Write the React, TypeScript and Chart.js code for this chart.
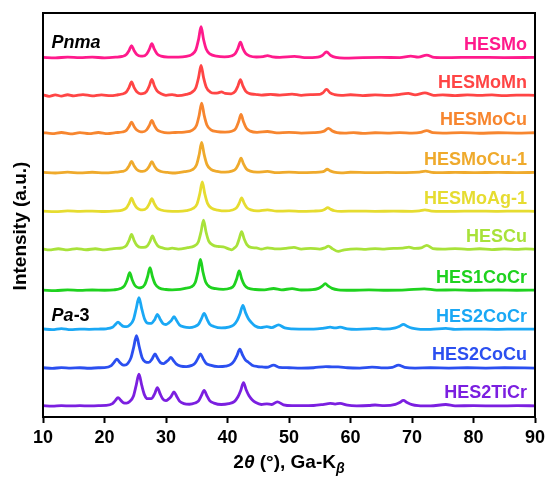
import React, { useEffect, useRef } from 'react';
import { Chart, registerables } from 'chart.js';

Chart.register(...registerables);

// Series (top to bottom)
const seriesNames = ['HESMo', 'HESMoMn', 'HESMoCu', 'HESMoCu-1', 'HESMoAg-1', 'HESCu', 'HES1CoCr', 'HES2CoCr', 'HES2CoCu', 'HES2TiCr'];
const seriesColors = ['#FF1A8C', '#FF4545', '#F7862F', '#EFAA2C', '#E6DC30', '#A8E23A', '#1FD21F', '#1AA8F5', '#2B4FF0', '#7B1FE0'];
// vertical stacking offsets (a.u.)
const offsets = [371.5, 332.5, 293.5, 252.6, 212.6, 173.3, 131, 90.6, 50.6, 11.4];
const xTicks = [10, 20, 30, 40, 50, 60, 70, 80, 90];

type P = [number, number];

const HESMo: P[] = [[10,0.3],[12,-0.3],[14,0.5],[16,0],[18,0.4],[20,-0.2],[21.8,0.4],[22.9,1.2],[23.55,3.1],[24.0,7.4],[24.4,12.4],[24.8,7.4],[25.25,3.3],[25.9,1.5],[26.2,1.5],[26.85,3.6],[27.3,8.7],[27.7,14.5],[28.1,8.7],[28.55,3.9],[29.2,1.5],[30.5,0.5],[32,0.4],[33.3,1.2],[34.2,3.2],[34.85,8],[35.3,19],[35.7,32],[36.1,19],[36.55,8.6],[37.2,3.5],[38.2,1.5],[39.5,0.8],[40.6,1.6],[41.25,4],[41.7,9.6],[42.1,16],[42.5,9.6],[42.95,4.3],[43.6,1.7],[44.7,0.6],[45.8,1],[46.5,2],[47.3,0.8],[48.5,0.3],[50.9,1.3],[52.5,0],[54.7,0.6],[55.4,2.2],[56.1,5.8],[56.8,2.2],[57.6,0.3],[59,-0.5],[62,0],[65,0.2],[68,0],[69.8,1.5],[71,0.5],[72.4,2.6],[73.6,0.3],[76,0],[80,0.3],[85,0],[90,0.2]];

const HESMoMn: P[] = [[10,0.5],[11,-1],[12,0.5],[13,-0.8],[14,0.6],[15,-0.5],[16.5,0.8],[18,-0.6],[19.5,0.5],[21,-0.4],[22.2,0.6],[22.9,1.4],[23.55,3.5],[24.0,8.3],[24.4,13.8],[24.8,8.3],[25.25,3.7],[25.9,1.6],[26.2,1.7],[26.85,4.1],[27.3,9.9],[27.7,16.5],[28.1,9.9],[28.55,4.5],[29.2,1.7],[30,0],[31,0.8],[32,-0.4],[33.3,1],[34.2,3.1],[34.85,7.8],[35.3,18.6],[35.7,31],[36.1,18.6],[36.55,8.4],[37.2,3.4],[37.9,2.2],[38.5,2.6],[39,3.6],[39.6,2],[40.6,1.6],[41.25,4],[41.7,9.7],[42.1,16.2],[42.5,9.7],[42.95,4.4],[43.6,1.7],[44.5,1],[45.5,0.2],[47,1],[48.5,0.2],[50.5,1.2],[52,0],[53.5,0.8],[55,1],[55.5,2.5],[56.1,6.2],[56.7,2.5],[57.4,0.8],[58.5,0],[60,0.6],[62,-0.3],[64,0.5],[66,0],[67.5,0.6],[69.4,2],[70.5,0.5],[72.1,2.6],[73.5,0],[75,0.5],[77,-0.3],[79,0.5],[81,0],[83,0.4],[85,-0.3],[87,0.3],[90,0]];

const HESMoCu: P[] = [[10,0.5],[11.5,-0.5],[13,0.6],[14.5,-0.8],[16,0.4],[17.5,-0.6],[19,0.6],[20.5,-0.5],[21.8,0.4],[22.9,1.1],[23.55,2.8],[24.0,6.8],[24.4,11.3],[24.8,6.8],[25.25,3.1],[25.9,1.3],[26.2,1.3],[26.85,3.3],[27.3,7.9],[27.7,13.1],[28.1,7.9],[28.55,3.5],[29.2,1.4],[30.3,0.2],[31.5,0.6],[33,1],[34.3,3.1],[34.95,7.8],[35.4,18.6],[35.8,31],[36.2,18.6],[36.65,8.4],[37.3,3.4],[38.3,1.5],[39.6,1],[40.7,1.9],[41.35,4.8],[41.8,11.6],[42.2,19.3],[42.6,11.6],[43.05,5.2],[43.7,2],[44.8,0.8],[46.5,1.6],[48,0.2],[50,0.8],[52,0],[54,0.4],[55.1,1],[55.7,2],[56.4,4.8],[57.1,2],[57.8,0.5],[59,0],[60.5,0.5],[62,-0.4],[64,0.3],[66,0],[68,0.4],[70,0],[71.4,0.6],[72.4,2.6],[73.4,0.4],[75,0],[78,0.4],[81,-0.2],[84,0.3],[87,0],[90,0.3]];

const HESMoCu1: P[] = [[10,0.3],[12,-0.4],[14,0.5],[16,-0.3],[18,0.4],[20,-0.2],[21.8,0.5],[22.9,1.2],[23.55,2.9],[24.0,7],[24.4,11.7],[24.8,7],[25.25,3.2],[25.9,1.3],[26.2,1.2],[26.85,2.9],[27.3,6.8],[27.7,11.4],[28.1,6.8],[28.55,3.1],[29.2,1.2],[30.3,0.2],[31.5,-0.4],[33,1],[34.3,3.1],[34.95,7.8],[35.4,18.8],[35.8,31.3],[36.2,18.8],[36.65,8.5],[37.3,3.4],[38.3,1.4],[39.6,0.5],[40.7,1.5],[41.35,3.8],[41.8,9],[42.2,15],[42.6,9],[43.05,4],[43.7,1.6],[44.8,0.5],[46.5,1.2],[48,0],[50,0.6],[52,0],[54,0.3],[55.3,0.8],[55.8,1.8],[56.2,3.5],[56.7,1.8],[57.3,0.5],[58.5,-0.2],[60,0.4],[63,0],[66,0.2],[69,0],[71.2,0.5],[72.2,1.5],[73.2,0.3],[75,0],[77,0.3],[80,0],[84,0.3],[87,0],[90,0.2]];

const HESMoAg1: P[] = [[10,0.2],[12,-0.3],[14,0.4],[16,0],[18,0.3],[20,-0.2],[21.8,0.4],[22.9,1.3],[23.55,3.4],[24.0,8.1],[24.4,13.5],[24.8,8.1],[25.25,3.6],[25.9,1.5],[26.2,1.4],[26.85,3.3],[27.3,7.9],[27.7,13.1],[28.1,7.9],[28.55,3.5],[29.2,1.4],[30.3,0.2],[32,0],[33.3,0.8],[34.4,3],[35.05,7.6],[35.5,18.3],[35.9,30.5],[36.3,18.3],[36.75,8.2],[37.4,3.3],[38.4,1.3],[39.7,0.4],[40.8,1.4],[41.45,3.5],[41.9,8.4],[42.3,14],[42.7,8.4],[43.15,3.8],[43.8,1.5],[44.8,0.4],[46.5,1.5],[48,0.2],[50,0.4],[52,0],[54,0.3],[55.3,0.8],[55.8,2],[56.3,3.8],[56.8,2],[57.4,0.6],[58.5,0],[61,0.3],[64,0],[67,0.2],[70,0],[71.2,0.4],[72.1,1.5],[73.2,0.3],[77,0],[80,0.3],[84,0],[87,0.3],[90,0]];

const HESCu: P[] = [[10,0.5],[11,-0.6],[12.5,0.6],[14,-0.5],[15.5,0.7],[17,-0.4],[18.5,0.6],[20,-0.5],[21.5,0.8],[22.9,1.6],[23.55,3.9],[24.0,9.3],[24.4,15.5],[24.8,9.3],[25.25,4.2],[25.9,2],[26.3,2],[26.95,3.5],[27.4,8.3],[27.8,13.8],[28.2,8.3],[28.65,3.7],[29.3,1.8],[30.2,0.5],[31,1.2],[32,0.3],[33.5,1.8],[34.6,3.5],[35.25,7.6],[35.7,18.2],[36.1,30.3],[36.5,18.2],[36.95,8.5],[37.6,4.5],[38.4,3],[39.3,2.5],[40.2,0.5],[40.7,-0.5],[41.2,1.8],[41.55,4.5],[41.9,10.9],[42.3,18.2],[42.7,10.9],[43.15,4.9],[43.8,2],[44.7,1.5],[45.5,0.3],[46.5,1.5],[48,0.4],[49.5,1],[50.8,2],[52,0.3],[53.5,1],[55,0.3],[55.8,1.5],[56.4,3.4],[57.1,0.5],[58,-2],[59,-0.5],[61,0.5],[62.5,0],[64,0.8],[65.5,0.3],[67,1],[68.5,1.2],[69.5,2.2],[70.5,1],[71.5,1.5],[72.4,4.1],[73.4,0.8],[75,0.3],[77,0.8],[79,0],[81,0.6],[83,-0.3],[85,0.5],[87,0],[88.5,0.5],[90,0]];

const HES1CoCr: P[] = [[10,0.2],[12,-0.4],[14,0.4],[16,-0.2],[18,0.3],[20,0],[21.5,0.4],[22.6,1.8],[23.25,4.6],[23.7,10.9],[24.1,18.2],[24.5,10.9],[24.95,4.9],[25.6,2.5],[25.9,2.6],[26.55,5.9],[27.0,14],[27.4,23.4],[27.8,14],[28.25,6.3],[28.9,2.4],[30,0.8],[31,0.5],[32.3,1],[33.3,2.2],[34.1,3.5],[34.75,8],[35.2,19.2],[35.6,32],[36.0,19.2],[36.45,8.6],[37.1,3.5],[38.1,1.6],[39.3,1],[40.4,2],[41.05,5],[41.5,12],[41.9,20],[42.3,12],[42.75,5.4],[43.4,2],[44.5,0.8],[46,0.5],[47.5,1.8],[48.8,0.5],[50.5,1.6],[52,0.3],[53.8,0.6],[54.8,2],[55.4,4.2],[55.9,6.8],[56.4,4.2],[57,2],[58,0.5],[60,0],[63,0.4],[66,0],[69,0.3],[72,1.5],[74,0.2],[77,0.4],[80,0],[84,0.3],[87,0],[90,0.2]];

const HES2CoCr: P[] = [[10,0.4],[11.5,-0.3],[13,0.8],[14.5,-0.3],[16,0.3],[17.5,0],[19,0.3],[20.3,0.6],[21.3,2.2],[21.75,4.9],[22.2,7.5],[22.65,5],[23.1,3],[23.6,2.8],[24.1,4.5],[24.7,10],[25.15,21.3],[25.6,32.7],[26.05,21.5],[26.5,11],[27,6.5],[27.6,6.2],[28.15,10],[28.6,15.5],[29.05,10.5],[29.5,6],[30,5],[30.4,6.5],[30.85,9],[31.3,13],[31.75,8.8],[32.2,4.5],[32.9,2.5],[33.8,1.8],[34.7,3],[35.3,5.3],[35.75,10.8],[36.2,16.5],[36.65,10.8],[37.1,5.5],[37.8,3],[39,1.5],[40.2,2.4],[41,4.5],[41.6,9.5],[42.05,16.5],[42.5,24.8],[42.95,17],[43.4,11],[43.9,7],[44.5,3.5],[45.4,1.8],[46.4,2.8],[47.2,1.8],[48.3,4.6],[49.3,1.5],[50.5,0.5],[52,0.3],[54,0.2],[55.5,1],[56.7,2.2],[57.5,1.5],[58.3,2.2],[59.5,0.5],[61,0],[63,0.4],[64.2,1],[65.5,0.2],[67.3,1.5],[68,3.2],[68.6,5.2],[69.2,3.2],[70,1.2],[71,0.3],[73,0],[75.5,1],[77,0],[80,0.3],[84,0],[87,0.3],[90,0.3]];

const HES2CoCu: P[] = [[10,0.3],[11.5,-0.3],[13,0.4],[14.5,0],[16,0.3],[17.5,-0.2],[19,0.3],[20,0.5],[21.1,2.6],[21.55,5.8],[22,9.3],[22.45,6],[22.9,3.5],[23.3,3],[23.8,4.8],[24.3,10.5],[24.75,21.7],[25.2,33.4],[25.65,22],[26.1,11],[26.6,6.5],[27.2,5.8],[27.75,9.5],[28.2,14.5],[28.65,9.8],[29.1,5.6],[29.6,4.6],[29.95,6],[30.35,8],[30.8,11],[31.25,7.5],[31.7,4],[32.4,2],[33.3,1.5],[34.2,2.8],[34.7,4.8],[35.15,9.5],[35.6,14.5],[36.05,9.5],[36.5,5],[37.2,3],[38.5,1.5],[39.7,2],[40.6,4],[41.1,7.5],[41.55,13],[42,19.6],[42.45,13.5],[42.9,8.5],[43.4,6],[44,3],[44.9,1.5],[45.6,1.2],[46.4,0.8],[47.5,3],[48.4,0.8],[50,0.3],[52,0],[54,0.3],[56,1.5],[57,1.2],[58,1.2],[59.5,0.3],[61.5,0],[63.5,1],[65,0.2],[66.8,0.8],[67.8,3],[68.8,0.8],[70.5,0],[73,0.3],[76,0],[79,0.3],[82,0],[85,0.3],[90,0]];

const HES2TiCr: P[] = [[10,0.3],[11.5,-0.2],[13,0.4],[14.5,0],[16,0.3],[17.5,0],[19,0.4],[20.3,0.6],[21.3,2.4],[21.75,5.5],[22.2,8.7],[22.65,5.8],[23.1,3.3],[23.6,3],[24.1,4.6],[24.7,10],[25.15,21.3],[25.6,32.8],[26.05,21.5],[26.5,11.5],[27,7.5],[27.6,7.5],[28.15,12.5],[28.6,19],[29.05,12.5],[29.5,7],[30,5.5],[30.4,7],[30.85,10],[31.3,14.5],[31.75,9.8],[32.2,5],[32.9,2.5],[33.8,1.8],[34.7,3],[35.3,5.3],[35.75,10.6],[36.2,16.2],[36.65,10.6],[37.1,5.5],[37.8,3],[39,1.5],[40.2,2.4],[41.1,4.5],[41.7,9.5],[42.15,16],[42.6,24.2],[43.05,16.5],[43.5,10.5],[44,6.5],[44.6,3.5],[45.5,1.5],[46.4,2.2],[47.2,1.5],[48.1,4.2],[49.1,1.2],[50.5,0.3],[52,0.3],[54,0.5],[55.5,1.5],[56.7,2.6],[57.5,2],[58.3,2.6],[59.5,0.8],[61,0.2],[63,0.5],[64,1],[65.5,0.3],[67.3,1.6],[68,3.6],[68.6,5.8],[69.2,3.6],[70,1.3],[71,0.3],[73,0],[75.5,1.5],[77,0.2],[80,0.3],[84,0],[87,0.3],[90,0.2]];

const seriesData: P[][] = [HESMo, HESMoMn, HESMoCu, HESMoCu1, HESMoAg1, HESCu, HES1CoCr, HES2CoCr, HES2CoCu, HES2TiCr];

const FONT = '"Liberation Sans", Arial, Helvetica, sans-serif';

const decorPlugin = {
  id: 'decor',
  afterDraw(chart: any) {
    const { ctx, chartArea: a, scales } = chart;
    const x = scales.x;
    const y = scales.y;
    ctx.save();
    // frame
    ctx.strokeStyle = '#000';
    ctx.lineWidth = 2;
    ctx.strokeRect(a.left, a.top, a.right - a.left, a.bottom - a.top);

    // series labels
    ctx.font = `bold 18px ${FONT}`;
    ctx.textAlign = 'right';
    ctx.textBaseline = 'middle';
    seriesNames.forEach((n, i) => {
      ctx.fillStyle = seriesColors[i];
      ctx.fillText(n, a.right - 8, y.getPixelForValue(offsets[i] + 13));
    });

    // phase labels
    ctx.fillStyle = '#000';
    ctx.textAlign = 'left';
    ctx.font = `italic bold 18px ${FONT}`;
    const px = x.getPixelForValue(11.4);
    ctx.fillText('Pnma', px, y.getPixelForValue(offsets[0] + 15.5));
    const pyPa = y.getPixelForValue(offsets[7] + 13.5);
    ctx.fillText('Pa', px, pyPa);
    const wPa = ctx.measureText('Pa').width;
    ctx.font = `bold 18px ${FONT}`;
    ctx.fillText('-3', px + wPa, pyPa);

    // x title
    const parts = [
      { t: '2', it: false, sub: false },
      { t: 'θ', it: true, sub: false },
      { t: ' (°), Ga-K', it: false, sub: false },
      { t: 'β', it: true, sub: true },
    ];
    const fontFor = (p: any) => `${p.it ? 'italic ' : ''}bold ${p.sub ? 14 : 19}px ${FONT}`;
    let total = 0;
    parts.forEach((p) => { ctx.font = fontFor(p); total += ctx.measureText(p.t).width; });
    let cx = (a.left + a.right) / 2 - total / 2;
    const ty = 461;
    ctx.textBaseline = 'alphabetic';
    parts.forEach((p) => {
      ctx.font = fontFor(p);
      ctx.fillText(p.t, cx, ty + 7 + (p.sub ? 5 : 0));
      cx += ctx.measureText(p.t).width;
    });

    // y title
    ctx.save();
    ctx.translate(21, 226);
    ctx.rotate(-Math.PI / 2);
    ctx.font = `bold 19px ${FONT}`;
    ctx.textAlign = 'center';
    ctx.textBaseline = 'middle';
    ctx.fillText('Intensity (a.u.)', 0, 0);
    ctx.restore();

    ctx.restore();
  },
};

export default function App() {
  const ref = useRef<HTMLCanvasElement | null>(null);
  useEffect(() => {
    if (!ref.current) return;
    const chart = new Chart(ref.current, {
      type: 'line',
      data: {
        datasets: seriesData.map((pts, i) => ({
          label: seriesNames[i],
          data: pts.map(([xv, v]) => ({ x: xv, y: v + offsets[i] })),
          borderColor: seriesColors[i],
          backgroundColor: seriesColors[i],
          borderWidth: 2.8,
          pointRadius: 0,
          fill: false,
          cubicInterpolationMode: 'monotone' as const,
        })),
      },
      options: {
        animation: false,
        responsive: false,
        maintainAspectRatio: false,
        devicePixelRatio: 1,
        layout: { padding: { left: 43, right: 10, top: 13, bottom: 0 } },
        plugins: { legend: { display: false }, tooltip: { enabled: false }, title: { display: false } },
        scales: {
          x: {
            type: 'linear',
            min: 10,
            max: 90,
            afterBuildTicks: (s: any) => { s.ticks = xTicks.map((v) => ({ value: v })); },
            afterFit: (s: any) => { s.height = 62; s.paddingLeft = 0; s.paddingRight = 0; },
            ticks: {
              color: '#000',
              font: { family: FONT, size: 18, weight: 'bold' },
              padding: 4,
              maxRotation: 0,
              autoSkip: false,
            },
            grid: { drawOnChartArea: false, drawTicks: true, tickLength: 6, tickWidth: 2, tickColor: '#000' },
            border: { display: true, color: '#000', width: 2 },
          },
          y: { type: 'linear', min: 0, max: 417.6, display: false },
        },
      },
      plugins: [decorPlugin],
    } as any);
    return () => chart.destroy();
  }, []);
  return (
    <div style={{ position: 'fixed', left: 0, top: 0, width: 545, height: 479, background: '#fff' }}>
      <canvas ref={ref} width={545} height={479} />
    </div>
  );
}
